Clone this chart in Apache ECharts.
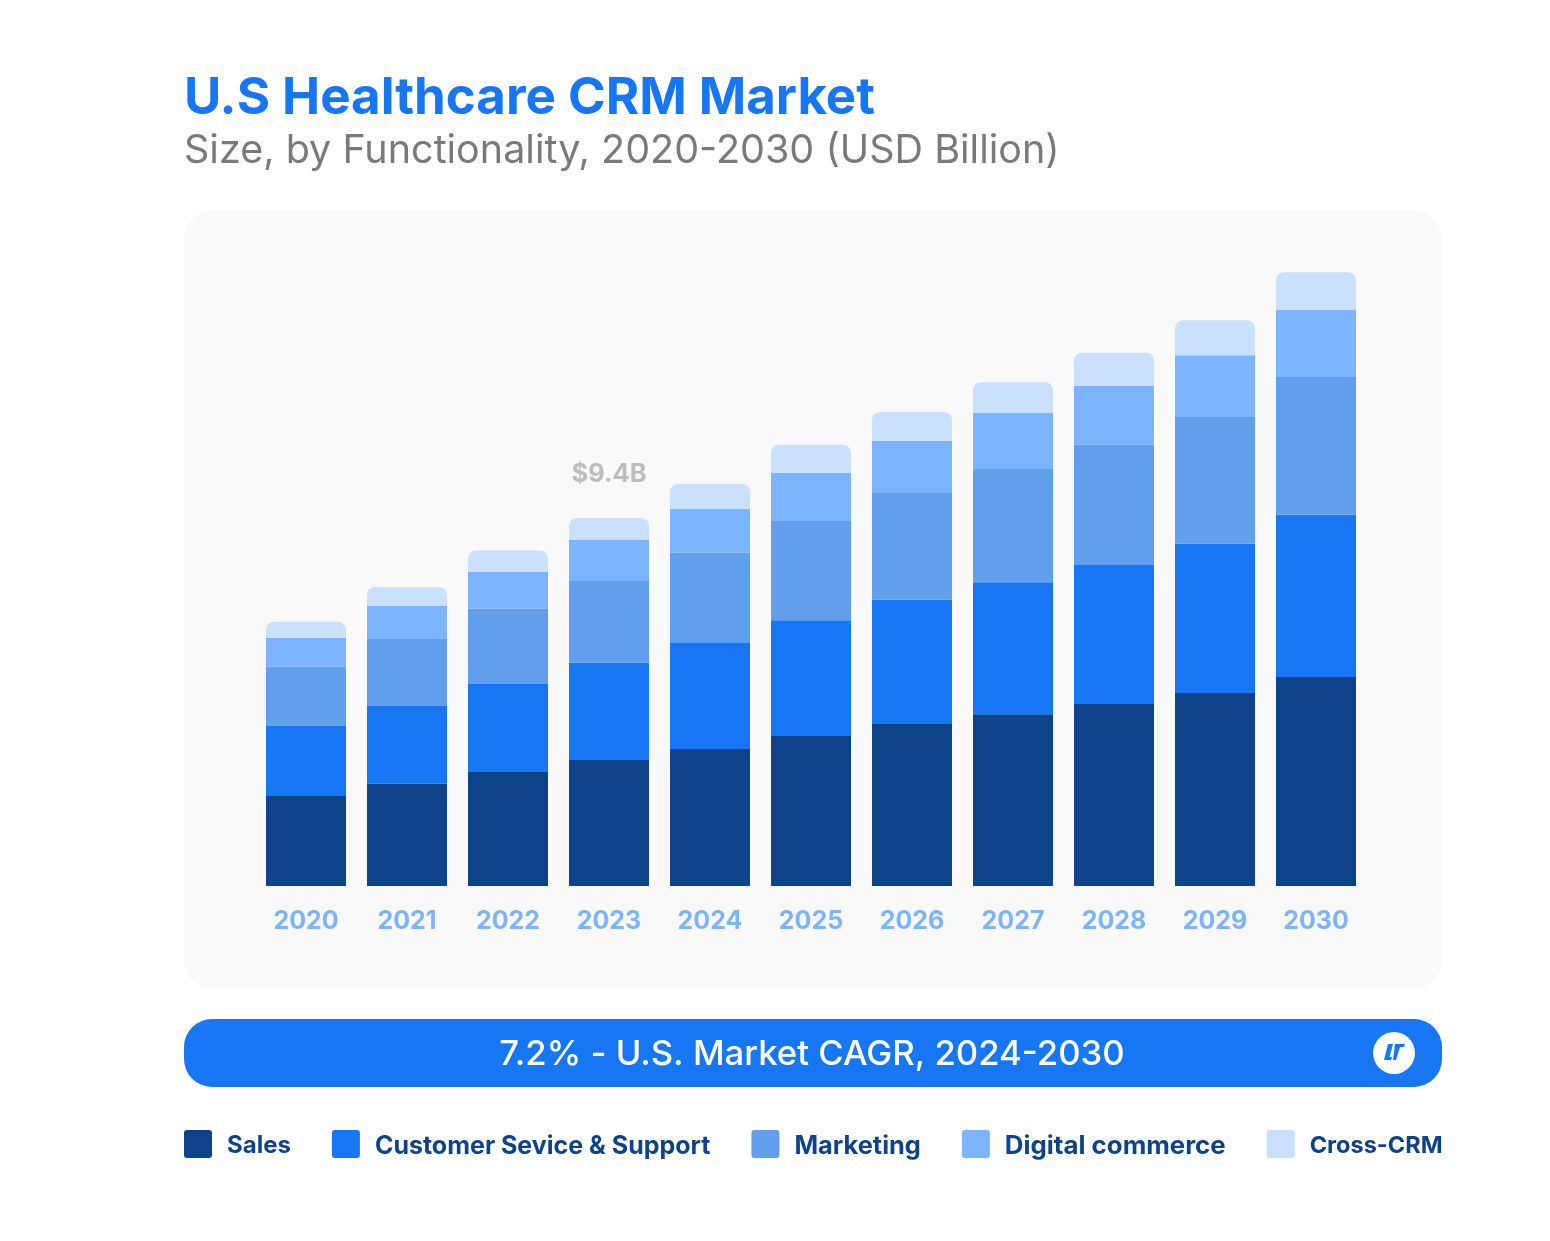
<!DOCTYPE html>
<html>
<head>
<meta charset="utf-8">
<title>U.S Healthcare CRM Market</title>
<style>
  html, body { margin: 0; padding: 0; background: #fff; }
  #chart { width: 1550px; height: 1241px; }
</style>
<script src="https://cdn.jsdelivr.net/npm/echarts@6/dist/echarts.min.js"></script>
</head>
<body>
<div id="chart"></div>
<script>
const years = ['2020', '2021', '2022', '2023', '2024', '2025', '2026', '2027', '2028', '2029', '2030'];

// USD billion (the 2023 stack is the labelled $9.4B)
const sales = [2.30, 2.61, 2.91, 3.22, 3.50, 3.83, 4.14, 4.39, 4.65, 4.93, 5.34];
const customerService = [1.79, 1.99, 2.25, 2.48, 2.71, 2.96, 3.17, 3.37, 3.55, 3.81, 4.14];
const marketing = [1.51, 1.71, 1.92, 2.09, 2.30, 2.53, 2.73, 2.89, 3.07, 3.24, 3.52];
const digitalCommerce = [0.74, 0.84, 0.95, 1.05, 1.12, 1.23, 1.33, 1.43, 1.51, 1.58, 1.71];
const crossCrm = [0.41, 0.49, 0.54, 0.56, 0.64, 0.72, 0.74, 0.79, 0.84, 0.89, 0.97];

const calloutYear = '2023';
const calloutText = '$9.4B';

const FONT = 'Inter, "Noto Sans", sans-serif';
const NAVY = '#0E4389';
const BLUE = '#1676F3';
// 28px rounded square; the empty segment at y=32 makes the icon box taller so the legend text sits 2px lower
const SWATCH = 'path://M3 0H25Q28 0 28 3V25Q28 28 25 28H3Q0 28 0 25V3Q0 0 3 0ZM0 32L0 32';

const chart = echarts.init(document.getElementById('chart'), null, { renderer: 'canvas' });

function stacked(name, values, color, extra) {
  return Object.assign({
    name, type: 'bar', stack: 'total', barWidth: 80, data: values,
    itemStyle: { color }, emphasis: { disabled: true },
  }, extra);
}

// sizes differ a little so each entry keeps the width it has in the reference, whose font runs wider than Inter
function legendItem(name, fontSize) {
  return { name, textStyle: { fontSize, padding: [0, 0, 0, 10] } };
}

chart.setOption({
  animation: false,
  title: {
    left: 184, top: 73, padding: 0, itemGap: 7,
    text: 'U.S Healthcare CRM Market',
    textStyle: { fontFamily: FONT, fontSize: 51, fontWeight: 700, color: BLUE },
    subtext: 'Size, by Functionality, 2020-2030 (USD Billion)',
    subtextStyle: { fontFamily: FONT, fontSize: 39.5, fontWeight: 400, color: '#7A7A7A' },
  },
  grid: { left: 255.5, width: 1111, top: 259.6, height: 626.4 },
  xAxis: {
    type: 'category', data: years,
    axisLine: { show: false }, axisTick: { show: false },
    axisLabel: { margin: 23, fontFamily: FONT, fontSize: 25, fontWeight: 700, color: '#7DB4FF' },
  },
  yAxis: { type: 'value', min: 0, max: 16, show: false },
  legend: {
    left: 184, top: 1130, padding: 0, itemWidth: 28, itemHeight: 32, itemGap: 41,
    icon: SWATCH, selectedMode: false,
    textStyle: { fontFamily: FONT, fontWeight: 700, color: NAVY },
    data: [
      legendItem('Sales', 24),
      legendItem('Customer Sevice & Support', 25),
      legendItem('Marketing', 25.4),
      legendItem('Digital commerce', 25.85),
      legendItem('Cross-CRM', 23.5),
    ],
  },
  series: [
    stacked('Sales', sales, NAVY),
    stacked('Customer Sevice & Support', customerService, BLUE),
    stacked('Marketing', marketing, '#619EEC'),
    stacked('Digital commerce', digitalCommerce, '#7DB4FF'),
    stacked('Cross-CRM', crossCrm.map((v, i) => years[i] !== calloutYear ? v : {
      value: v,
      label: {
        show: true, position: 'top', distance: 31, formatter: calloutText,
        fontFamily: FONT, fontSize: 25.5, fontWeight: 700, color: '#BDBDBD',
      },
    }), '#CAE0FF', { itemStyle: { color: '#CAE0FF', borderRadius: [8, 8, 0, 0] } }),
  ],
  graphic: [
    { type: 'rect', z: -10, silent: true, shape: { x: 184, y: 210, width: 1258, height: 779, r: 30 }, style: { fill: '#F9F9F9' } },
    { type: 'rect', z: 1, silent: true, shape: { x: 184, y: 1019, width: 1258, height: 68, r: 28 }, style: { fill: BLUE } },
    {
      type: 'text', z: 2, silent: true, x: 812, y: 1055,
      style: { text: '7.2% - U.S. Market CAGR, 2024-2030', fill: '#fff', font: '500 34.7px ' + FONT, textAlign: 'center', textVerticalAlign: 'middle' },
    },
    { type: 'circle', z: 2, silent: true, shape: { cx: 1394, cy: 1053, r: 21 }, style: { fill: '#fff' } },
    { type: 'polygon', z: 3, silent: true, shape: { points: [[1388, 1044], [1393, 1044], [1389.5, 1057], [1392, 1057], [1391, 1060], [1384, 1060]] }, style: { fill: BLUE } },
    { type: 'polygon', z: 3, silent: true, shape: { points: [[1395, 1044], [1405, 1044], [1404, 1047], [1400, 1047], [1396, 1060], [1393, 1060]] }, style: { fill: BLUE } },
  ],
});
</script>
</body>
</html>
